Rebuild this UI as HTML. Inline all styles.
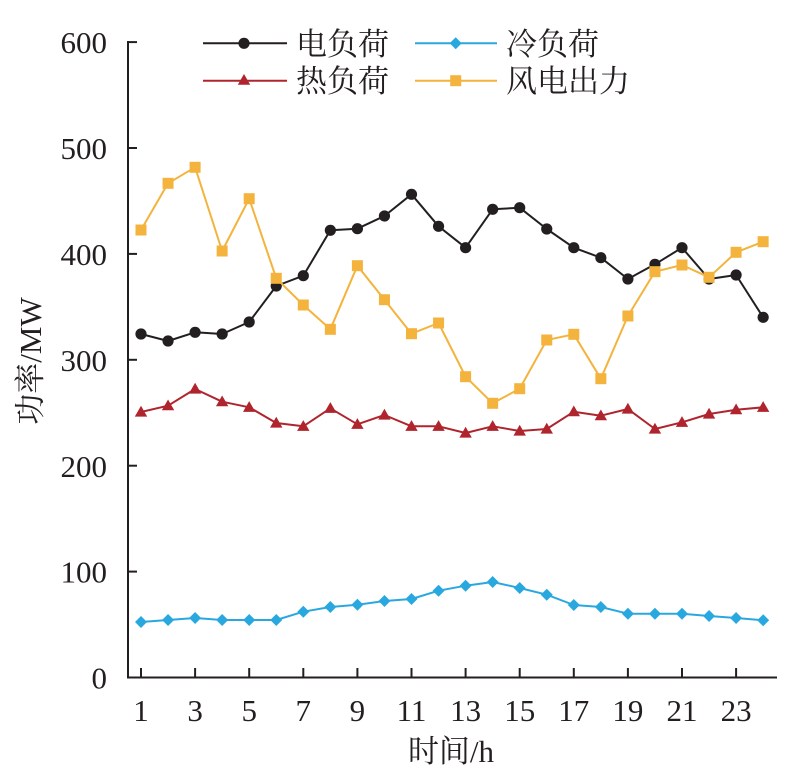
<!DOCTYPE html>
<html>
<head>
<meta charset="utf-8">
<style>
html,body{margin:0;padding:0;background:#fff;}
svg{display:block;}
text{font-family:"Liberation Serif","Noto Serif CJK SC",serif;fill:#231f20;}
</style>
</head>
<body>
<svg width="792" height="766" viewBox="0 0 792 766" xmlns="http://www.w3.org/2000/svg">
<defs>
  <marker id="mc" markerWidth="16" markerHeight="16" refX="8" refY="8" markerUnits="userSpaceOnUse" overflow="visible">
    <circle cx="8" cy="8" r="5.6" fill="#231f20"/>
  </marker>
  <marker id="mt" markerWidth="16" markerHeight="16" refX="8" refY="8" markerUnits="userSpaceOnUse" overflow="visible">
    <polygon points="8,1.8 14.2,12.6 1.8,12.6" fill="#b0252d"/>
  </marker>
  <marker id="md" markerWidth="16" markerHeight="16" refX="8" refY="8" markerUnits="userSpaceOnUse" overflow="visible">
    <polygon points="8,2 14,8 8,14 2,8" fill="#29a8e0"/>
  </marker>
  <marker id="ms" markerWidth="16" markerHeight="16" refX="8" refY="8" markerUnits="userSpaceOnUse" overflow="visible">
    <rect x="2.5" y="2.5" width="11" height="11" fill="#f3b33d"/>
  </marker>
</defs>

<!-- axes -->
<line x1="128" y1="41" x2="128" y2="678.5" stroke="#231f20" stroke-width="2"/>
<line x1="127" y1="677.5" x2="777" y2="677.5" stroke="#231f20" stroke-width="2"/>

<!-- y ticks -->
<g stroke="#231f20" stroke-width="2">
  <line x1="128" y1="42.1" x2="137" y2="42.1"/>
  <line x1="128" y1="148" x2="137" y2="148"/>
  <line x1="128" y1="253.9" x2="137" y2="253.9"/>
  <line x1="128" y1="359.8" x2="137" y2="359.8"/>
  <line x1="128" y1="465.7" x2="137" y2="465.7"/>
  <line x1="128" y1="571.6" x2="137" y2="571.6"/>
</g>
<!-- x ticks -->
<g stroke="#231f20" stroke-width="2">
  <line x1="141" y1="668" x2="141" y2="677"/>
  <line x1="195.1" y1="668" x2="195.1" y2="677"/>
  <line x1="249.2" y1="668" x2="249.2" y2="677"/>
  <line x1="303.3" y1="668" x2="303.3" y2="677"/>
  <line x1="357.4" y1="668" x2="357.4" y2="677"/>
  <line x1="411.5" y1="668" x2="411.5" y2="677"/>
  <line x1="465.6" y1="668" x2="465.6" y2="677"/>
  <line x1="519.7" y1="668" x2="519.7" y2="677"/>
  <line x1="573.8" y1="668" x2="573.8" y2="677"/>
  <line x1="627.9" y1="668" x2="627.9" y2="677"/>
  <line x1="682" y1="668" x2="682" y2="677"/>
  <line x1="736.1" y1="668" x2="736.1" y2="677"/>
</g>

<!-- y tick labels -->
<g font-size="31" text-anchor="end">
  <text x="107" y="53">600</text>
  <text x="107" y="159">500</text>
  <text x="107" y="265">400</text>
  <text x="107" y="371">300</text>
  <text x="107" y="477">200</text>
  <text x="107" y="582.5">100</text>
  <text x="107" y="688.5">0</text>
</g>
<!-- x tick labels -->
<g font-size="31" text-anchor="middle">
  <text x="141" y="721">1</text>
  <text x="195.1" y="721">3</text>
  <text x="249.2" y="721">5</text>
  <text x="303.3" y="721">7</text>
  <text x="357.4" y="721">9</text>
  <text x="411.5" y="721">11</text>
  <text x="465.6" y="721">13</text>
  <text x="519.7" y="721">15</text>
  <text x="573.8" y="721">17</text>
  <text x="627.9" y="721">19</text>
  <text x="682" y="721">21</text>
  <text x="736.1" y="721">23</text>
</g>

<!-- axis titles -->
<text x="451" y="762" font-size="31" text-anchor="middle">时间/h</text>
<text transform="translate(41,361) rotate(-90)" x="0" y="0" font-size="31" text-anchor="middle">功率/MW</text>

<!-- series -->
<polyline fill="none" stroke="#231f20" stroke-width="2" stroke-linejoin="round"
  marker-start="url(#mc)" marker-mid="url(#mc)" marker-end="url(#mc)"
  points="141,334 168.05,341 195.1,332.3 222.15,334 249.2,322 276.25,286 303.3,275.7 330.35,230.3 357.4,228.7 384.45,216 411.5,194.3 438.55,226.3 465.6,247.7 492.65,209.3 519.7,207.7 546.75,229 573.8,247.7 600.85,257.7 627.9,279 654.95,264.3 682,247.7 709.05,279 736.1,275 763.15,317.3"/>

<polyline fill="none" stroke="#b0252d" stroke-width="2" stroke-linejoin="round"
  marker-start="url(#mt)" marker-mid="url(#mt)" marker-end="url(#mt)"
  points="141,412 168.05,405.7 195.1,389 222.15,401.7 249.2,407.3 276.25,423 303.3,426.3 330.35,408.3 357.4,424.3 384.45,415 411.5,426.3 438.55,426.3 465.6,433 492.65,426.3 519.7,431 546.75,429 573.8,411.7 600.85,415.7 627.9,409 654.95,429 682,422.3 709.05,414 736.1,409.7 763.15,407.3"/>

<polyline fill="none" stroke="#29a8e0" stroke-width="2" stroke-linejoin="round"
  marker-start="url(#md)" marker-mid="url(#md)" marker-end="url(#md)"
  points="141,622 168.05,620 195.1,618 222.15,620 249.2,620 276.25,620 303.3,611.7 330.35,607 357.4,604.7 384.45,601 411.5,599 438.55,590.7 465.6,585.7 492.65,582 519.7,588 546.75,594.7 573.8,605 600.85,607 627.9,613.7 654.95,613.7 682,613.7 709.05,616 736.1,618 763.15,620.3"/>

<polyline fill="none" stroke="#f3b33d" stroke-width="2" stroke-linejoin="round"
  marker-start="url(#ms)" marker-mid="url(#ms)" marker-end="url(#ms)"
  points="141,230 168.05,183.3 195.1,167.3 222.15,251 249.2,198.7 276.25,278.3 303.3,305 330.35,329.3 357.4,265.7 384.45,299.7 411.5,333.7 438.55,323 465.6,376.7 492.65,403.3 519.7,388.7 546.75,340 573.8,334.3 600.85,378.7 627.9,316 654.95,271.7 682,265 709.05,277.3 736.1,252.3 763.15,241.7"/>

<!-- legend -->
<line x1="203" y1="43.3" x2="287" y2="43.3" stroke="#231f20" stroke-width="2"/>
<circle cx="244" cy="43.3" r="5.6" fill="#231f20"/>
<text x="296" y="55" font-size="31">电负荷</text>

<line x1="203" y1="80.7" x2="287" y2="80.7" stroke="#b0252d" stroke-width="2"/>
<polygon points="244,74 250.2,84.8 237.8,84.8" fill="#b0252d"/>
<text x="296" y="92" font-size="31">热负荷</text>

<line x1="415" y1="43.3" x2="497" y2="43.3" stroke="#29a8e0" stroke-width="2"/>
<polygon points="455.7,37.3 461.7,43.3 455.7,49.3 449.7,43.3" fill="#29a8e0"/>
<text x="506" y="55" font-size="31">冷负荷</text>

<line x1="415" y1="80.7" x2="497" y2="80.7" stroke="#f3b33d" stroke-width="2"/>
<rect x="450.2" y="75.2" width="11" height="11" fill="#f3b33d"/>
<text x="506" y="92" font-size="31">风电出力</text>
</svg>
</body>
</html>
